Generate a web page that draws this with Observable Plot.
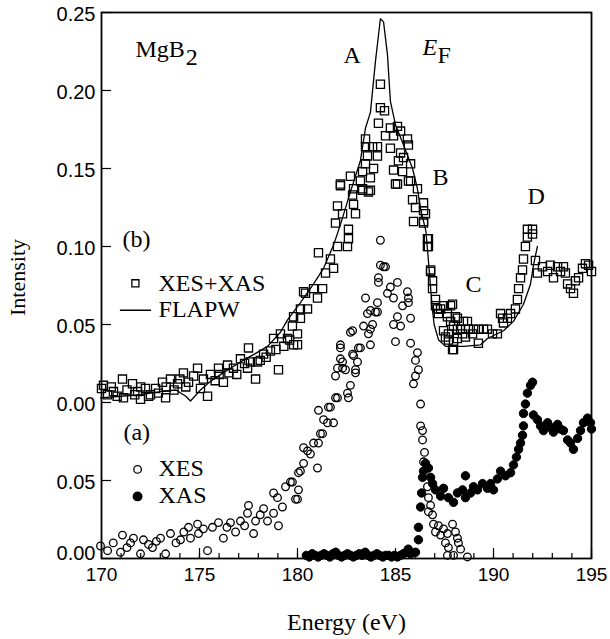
<!DOCTYPE html>
<html><head><meta charset="utf-8">
<script src="https://cdn.jsdelivr.net/npm/d3@7"></script>
<script src="https://cdn.jsdelivr.net/npm/@observablehq/plot@0.6"></script>
<style>html,body{margin:0;padding:0;background:#fff}</style>
</head><body><div id="chart"></div>
<script>
// ---- data ----
const upperOffset = 0.10; // spectrum (b) is shifted up by 0.10
const yTickValues = [0, 0.05, 0.10, 0.15, 0.20, 0.25, 0.30, 0.35];
const yTickLabels = ["0.00", "0.05", "0.00", "0.05", "0.10", "0.15", "0.20", "0.25"];
const xMajorTicks = [170, 175, 180, 185, 190, 195];
const xMinorTicks = [170,171,172,173,174,175,176,177,178,179,180,181,182,183,184,185,186,187,188,189,190,191,192,193,194,195];

// (b) XES+XAS squares [energy eV, intensity]
const xesxas = [
 [170.0,.009],[170.1,.011],[170.31,.005],[170.5,.010],[170.61,.007],[170.8,.004],[171.07,.015],[171.12,.003],[171.3,.008],
 [171.58,.012],[171.7,.005],[171.84,.007],[171.99,.002],[172.0,.010],[172.24,.009],[172.4,.004],[172.5,.005],[172.76,.009],
 [172.9,.006],[173.11,.013],[173.27,.003],[173.3,.010],[173.52,.015],[173.7,.008],[173.88,.012],[174.0,.015],[174.18,.019],
 [174.3,.010],[174.44,.013],[174.7,.017],[174.9,.022],[175.05,.009],[175.2,.015],[175.41,.004],[175.56,.018],[175.8,.014],
 [175.97,.022],[176.0,.018],[176.22,.013],[176.43,.024],[176.5,.019],[176.73,.022],[176.9,.018],[177.09,.028],[177.3,.025],
 [177.45,.022],[177.5,.035],[177.6,.026],[177.86,.015],[177.96,.026],[178.1,.027],[178.27,.031],[178.4,.029],[178.62,.033],
 [178.78,.041],[178.9,.034],[179.03,.021],[179.13,.044],[179.3,.036],[179.49,.041],[179.6,.040],[179.74,.049],[179.8,.055],
 [179.8,.037],[180.0,.037],[180.0,.044],[180.15,.060],[180.15,.054],[180.31,.071],[180.41,.070],[180.51,.060],[180.82,.073],
 [181.02,.067],[181.07,.096],[181.28,.073],[181.43,.083],[181.68,.092],[181.84,.086],[181.94,.115],[182.04,.100],[182.04,.126],
 [182.19,.139],[182.19,.140],[182.3,.121],[182.55,.100],[182.6,.105],[182.6,.111],[182.7,.145],[182.81,.133],[182.86,.127],
 [182.86,.137],[182.96,.121],[183.21,.142],[183.32,.136],[183.32,.137],[183.32,.148],[183.47,.153],[183.47,.164],[183.47,.169],
 [183.57,.158],[183.62,.135],[183.72,.136],[183.72,.144],[183.83,.164],[183.88,.150],[184.08,.158],[184.08,.164],[184.13,.179],
 [184.23,.189],[184.23,.204],[184.44,.187],[184.49,.171],[184.74,.163],[184.74,.176],[184.9,.149],[184.9,.171],[185.0,.140],
 [185.1,.140],[185.1,.177],[185.15,.155],[185.26,.160],[185.26,.174],[185.36,.148],[185.41,.157],[185.61,.169],[185.66,.142],
 [185.66,.165],[185.77,.142],[185.77,.153],[185.87,.130],[185.92,.116],[186.02,.125],[186.12,.137],[186.43,.115],[186.43,.116],
 [186.43,.123],[186.43,.128],[186.53,.121],[186.63,.100],[186.63,.105],[186.68,.100],[186.68,.105],[186.79,.084],[186.79,.085],
 [186.89,.073],[186.89,.078],[187.04,.062],[187.04,.066],[187.14,.060],[187.19,.057],[187.3,.060],[187.45,.046],[187.45,.062],
 [187.55,.042],[187.65,.055],[187.65,.057],[187.7,.040],[187.7,.044],[187.81,.052],[187.81,.062],[187.91,.034],[187.91,.063],
 [187.96,.034],[187.96,.039],[187.96,.049],[188.06,.055],[188.16,.041],[188.16,.047],[188.16,.054],[188.32,.047],[188.42,.044],
 [188.47,.052],[188.57,.042],[188.67,.052],[188.72,.047],[188.93,.044],[188.98,.047],[189.23,.038],[189.23,.047],[189.49,.047],
 [189.69,.047],[189.95,.044],[190.2,.044],[190.36,.057],[190.46,.054],[190.51,.051],[190.71,.054],[190.87,.057],[191.12,.060],
 [191.22,.066],[191.28,.073],[191.38,.080],[191.48,.085],[191.53,.092],[191.63,.100],[191.73,.106],[191.73,.111],[191.99,.108],
 [191.99,.111],[192.14,.091],[192.24,.083],[192.5,.087],[192.76,.084],[192.9,.088],[193.06,.080],[193.27,.087],[193.42,.084],
 [193.57,.087],[193.67,.083],[193.78,.076],[193.93,.073],[194.08,.070],[194.18,.078],[194.34,.080],[194.54,.086],[194.69,.089],
 [194.85,.088],[195.0,.084]
];

// (b) FLAPW calculation [energy eV, intensity]
const flapw = [
 [169.95,.003],[171.0,.004],[172.0,.005],[173.0,.007],[173.8,.008],[174.3,.004],[174.54,.001],[175.05,.008],[175.5,.013],
 [176.2,.019],[177.09,.026],[177.8,.031],[178.47,.036],[179.13,.045],[179.49,.053],[180.15,.064],[180.82,.076],[181.33,.086],
 [181.84,.101],[182.19,.114],[182.7,.135],[183.21,.155],[183.47,.176],[183.72,.186],[183.98,.219],[184.23,.246],[184.39,.244],
 [184.59,.223],[184.74,.193],[185.0,.178],[185.41,.165],[185.87,.150],[186.12,.137],[186.28,.124],[186.55,.110],[186.72,.085],
 [186.85,.064],[186.97,.050],[187.2,.040],[187.55,.036],[188.47,.036],[189.34,.037],[189.69,.041],[190.51,.046],[191.02,.052],
 [191.53,.063],[191.89,.076],[192.04,.088],[192.24,.100]
];

// (a) XES open circles [energy eV, intensity]
const xes = [
 [169.95,.008],[170.31,.005],[170.6,.010],[170.97,.004],[171.07,.015],[171.3,.007],[171.48,.010],[171.63,.013],[171.99,.003],
 [172.14,.012],[172.4,.009],[172.6,.007],[172.8,.011],[173.01,.013],[173.27,.003],[173.52,.016],[173.8,.010],[174.03,.012],
 [174.2,.017],[174.44,.020],[174.54,.013],[174.9,.022],[174.95,.016],[175.2,.019],[175.41,.005],[175.66,.020],[175.97,.023],
 [176.22,.013],[176.4,.020],[176.58,.023],[176.84,.017],[177.09,.024],[177.3,.021],[177.45,.029],[177.5,.034],[177.76,.016],
 [177.86,.024],[178.1,.028],[178.27,.032],[178.47,.024],[178.78,.029],[178.78,.042],[178.98,.039],[179.03,.021],[179.23,.033],
 [179.39,.046],[179.64,.049],[179.74,.049],[179.9,.038],[180.0,.038],[180.05,.044],[180.05,.055],[180.15,.056],[180.31,.061],
 [180.31,.071],[180.51,.069],[180.66,.067],[180.82,.074],[181.02,.058],[181.07,.074],[181.07,.095],[181.17,.080],[181.28,.080],
 [181.33,.089],[181.53,.087],[181.58,.097],[181.68,.097],[181.84,.087],[181.94,.103],[181.94,.117],[182.04,.103],[182.04,.122],
 [182.19,.128],[182.19,.135],[182.19,.137],[182.3,.122],[182.3,.126],[182.45,.121],[182.55,.106],[182.6,.103],[182.7,.111],
 [182.7,.145],[182.81,.131],[182.81,.146],[182.86,.130],[182.96,.119],[182.96,.121],[183.06,.126],[183.11,.135],[183.21,.135],
 [183.37,.149],[183.47,.167],[183.57,.157],[183.62,.144],[183.72,.137],[183.72,.147],[183.72,.159],[183.83,.150],[183.98,.158],
 [184.08,.158],[184.08,.164],[184.13,.177],[184.13,.180],[184.23,.188],[184.23,.204],[184.39,.187],[184.49,.187],[184.59,.170],
 [184.74,.174],[184.9,.150],[184.9,.167],[185.0,.139],[185.1,.155],[185.1,.177],[185.26,.149],[185.36,.162],[185.61,.171],
 [185.66,.164],[185.66,.167],[185.77,.138],[185.77,.154],[185.92,.112],[186.02,.117],[186.02,.127],[186.12,.132],[186.17,.121],
 [186.28,.085],[186.28,.099],[186.38,.076],[186.38,.082],[186.43,.062],[186.48,.068],[186.63,.046],[186.68,.030],[186.68,.039],
 [186.79,.034],[186.89,.028],[186.94,.022],[187.04,.017],[187.19,.021],[187.3,.015],[187.45,.019],[187.55,.010],[187.65,.002],
 [187.65,.016],[187.7,.007],[187.91,.022],[187.96,.002],[188.06,.017],[188.16,.013],[188.21,.010],[188.32,.006],[188.67,.001]
];

// (a) XAS filled circles [energy eV, intensity]
const xas = [
 [180.45,.002],[180.6,.001],[180.75,.003],[180.9,.002],[181.05,.001],[181.2,.002],[181.35,.003],[181.5,.002],[181.65,.001],
 [181.8,.003],[181.95,.004],[182.1,.002],[182.25,.001],[182.4,.002],[182.55,.003],[182.7,.002],[182.85,.001],[183.0,.002],
 [183.15,.003],[183.3,.002],[183.45,.004],[183.6,.002],[183.75,.001],[183.9,.002],[184.05,.003],[184.2,.002],[184.35,.001],
 [184.5,.002],[184.65,.002],[184.8,.001],[184.95,.002],[185.1,.001],[185.25,.002],[185.4,.003],[185.55,.004],[185.65,.006],
 [185.77,.003],[186.02,.004],[186.17,.012],[186.17,.020],[186.28,.033],[186.33,.042],[186.38,.052],[186.43,.056],[186.53,.061],
 [186.68,.058],[186.79,.052],[186.89,.048],[187.04,.044],[187.3,.040],[187.45,.045],[187.7,.039],[187.96,.036],[188.16,.042],
 [188.42,.044],[188.57,.053],[188.57,.039],[188.83,.042],[188.98,.046],[189.18,.044],[189.44,.048],[189.69,.045],[189.85,.048],
 [190.0,.044],[190.2,.051],[190.36,.056],[190.61,.053],[190.87,.055],[191.02,.060],[191.17,.065],[191.28,.070],[191.38,.074],
 [191.48,.079],[191.53,.085],[191.53,.093],[191.63,.099],[191.73,.106],[191.89,.111],[191.99,.113],[192.04,.092],[192.24,.089],
 [192.4,.085],[192.55,.082],[192.76,.087],[192.91,.084],[193.06,.081],[193.27,.086],[193.42,.083],[193.57,.082],[193.78,.076],
 [193.93,.074],[194.08,.070],[194.29,.077],[194.44,.082],[194.59,.087],[194.8,.090],[194.95,.087],[195.0,.083]
];

// ---- chart ----
const serif = "'Liberation Serif', 'Times New Roman', Times, serif";
const sans = "'Liberation Sans', Arial, Helvetica, sans-serif";

const sqData = xesxas.map(([e, v]) => ({e, v: v + upperOffset}));
const lineData = flapw.map(([e, v]) => ({e, v: v + upperOffset}));
const xesData = xes.map(([e, v]) => ({e, v}));
const xasData = xas.map(([e, v]) => ({e, v}));

const annotations = [
  {t: "MgB", e: 171.73, v: 0.3214, italic: false},
  {t: "2", e: 174.3, v: 0.3162, italic: false},
  {t: "A", e: 182.35, v: 0.3175, italic: false},
  {t: "E", e: 186.38, v: 0.3227, italic: true},
  {t: "F", e: 187.14, v: 0.3175, italic: false},
  {t: "B", e: 186.89, v: 0.2393, italic: false},
  {t: "C", e: 188.57, v: 0.1706, italic: false},
  {t: "D", e: 191.73, v: 0.2271, italic: false},
  {t: "(b)", e: 171.07, v: 0.1995, italic: false},
  {t: "XES+XAS", e: 172.91, v: 0.1713, italic: false},
  {t: "FLAPW", e: 172.91, v: 0.1546, italic: false},
  {t: "(a)", e: 171.12, v: 0.0757, italic: false},
  {t: "XES", e: 172.91, v: 0.0526, italic: false},
  {t: "XAS", e: 172.91, v: 0.0353, italic: false}
];

const bottomTick = [yTickValues[0]];
const otherTicks = yTickValues.slice(1);
const fmtY = d => yTickLabels[yTickValues.indexOf(d)];

const chart = Plot.plot({
  width: 610,
  height: 639,
  marginLeft: 101,
  marginRight: 19,
  marginTop: 12,
  marginBottom: 81,
  style: {fontFamily: sans, fontSize: "18px", background: "white", color: "black"},
  x: {domain: [170, 195], label: null},
  y: {domain: [0, 0.35], label: null},
  marks: [
    // inward ticks
    Plot.axisX(xMinorTicks, {tickSize: 5, dy: -5, fill: "none", label: null, strokeWidth: 1.2}),
    Plot.axisX(xMajorTicks, {tickSize: 10, dy: -10, fill: "none", label: null, strokeWidth: 1.2}),
    Plot.axisX(xMajorTicks, {tickSize: 0, tickPadding: 9, label: null, fontSize: 19}),
    Plot.axisY(yTickValues, {tickSize: 10, dx: 10, fill: "none", label: null, strokeWidth: 1.2}),
    Plot.axisY(otherTicks, {tickSize: 0, tickPadding: 6, dy: 2, label: null, fontSize: 20, tickFormat: fmtY}),
    Plot.axisY(bottomTick, {tickSize: 0, tickPadding: 6, dy: -5, label: null, fontSize: 20, tickFormat: fmtY}),
    Plot.frame({stroke: "black", strokeWidth: 1.8}),
    // spectra
    Plot.dot(sqData, {x: "e", y: "v", symbol: "square", r: 4.6, stroke: "black", fill: "none", strokeWidth: 1.3}),
    Plot.line(lineData, {x: "e", y: "v", stroke: "black", strokeWidth: 1.3, curve: "linear"}),
    Plot.dot(xesData, {x: "e", y: "v", r: 3.8, stroke: "black", fill: "none", strokeWidth: 1.3}),
    Plot.dot(xasData, {x: "e", y: "v", r: 4.2, stroke: "black", fill: "black", strokeWidth: 1}),
    // legend symbols
    Plot.dot([{e: 171.73, v: 0.1764}], {x: "e", y: "v", symbol: "square", r: 4.0, stroke: "black", fill: "none", strokeWidth: 1.3}),
    Plot.line([{e: 170.97, v: 0.1591}, {e: 172.5, v: 0.1591}], {x: "e", y: "v", stroke: "black", strokeWidth: 1.5}),
    Plot.dot([{e: 171.84, v: 0.0571}], {x: "e", y: "v", r: 3.8, stroke: "black", fill: "none", strokeWidth: 1.3}),
    Plot.dot([{e: 171.84, v: 0.0398}], {x: "e", y: "v", r: 4.2, stroke: "black", fill: "black"}),
    // annotations
    Plot.text(annotations.filter(d => !d.italic), {x: "e", y: "v", text: "t", textAnchor: "start", lineAnchor: "bottom",
      fontFamily: serif, fontSize: 24, fill: "black"}),
    Plot.text(annotations.filter(d => d.italic), {x: "e", y: "v", text: "t", textAnchor: "start", lineAnchor: "bottom",
      fontFamily: serif, fontSize: 24, fontStyle: "italic", fill: "black"}),
    // axis titles
    Plot.text(["Energy (eV)"], {frameAnchor: "bottom", dy: 71, textAnchor: "middle", lineAnchor: "bottom", fontFamily: serif, fontSize: 24, fill: "black"}),
    Plot.text(["Intensity"], {frameAnchor: "left", dx: -77, dy: -8, rotate: -90, textAnchor: "middle", lineAnchor: "bottom", fontFamily: serif, fontSize: 22, fill: "black"})
  ]
});
document.getElementById("chart").appendChild(chart);
</script>
</body></html>
